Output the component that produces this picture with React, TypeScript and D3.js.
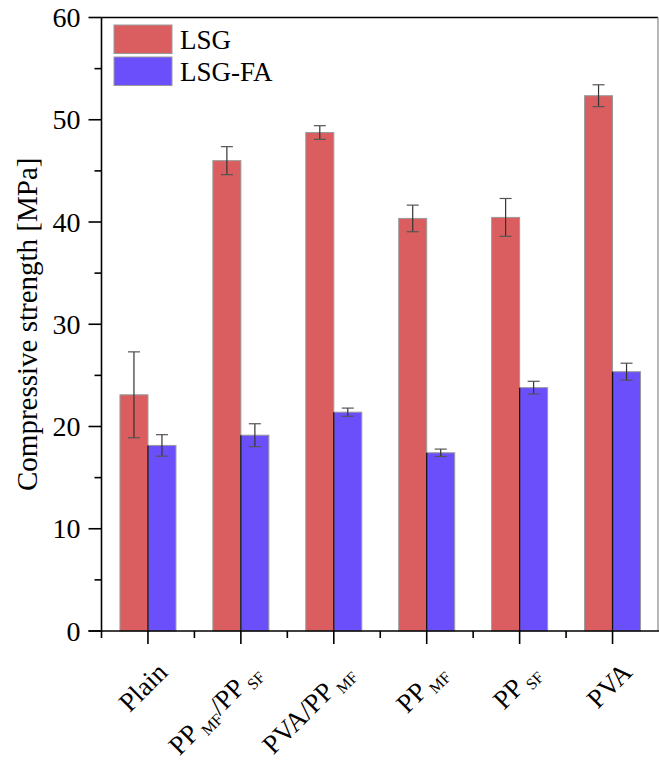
import React, { useEffect, useRef } from 'react';
import * as d3 from 'd3';

// categories, subscript parts marked with _{...}
const categories = ['Plain', 'PP_{MF}/PP_{SF}', 'PVA/PP_{MF}', 'PP_{MF}', 'PP_{SF}', 'PVA'];
const lsg = [23.1, 46.0, 48.75, 40.35, 40.45, 52.35];
const lsgErr = [4.2, 1.37, 0.67, 1.3, 1.85, 1.07];
const lsgFa = [18.15, 19.15, 21.4, 17.43, 23.8, 25.36];
const lsgFaErr = [1.05, 1.12, 0.4, 0.36, 0.62, 0.83];
const yTicks = [0, 10, 20, 30, 40, 50, 60];
const seriesNames = ['LSG', 'LSG-FA'];
const seriesColors = ['#da5e5f', '#6a4ffa'];

const FONT = '"Liberation Serif", "Times New Roman", serif';

export default function App() {
  const svgRef = useRef<SVGSVGElement | null>(null);
  const width = 659;
  const height = 761;

  useEffect(() => {
    document.body.style.margin = '0';
    const svg = d3.select(svgRef.current);
    svg.selectAll('*').remove();

    const left = 101.5, right = 659, top = 17.5, bottom = 631;

    const x = d3.scaleBand<string>().domain(categories).range([left, right]).padding(0);
    const y = d3.scaleLinear().domain([0, 60]).range([bottom, top]);
    const barW = 28;

    const series = [
      { vals: lsg, errs: lsgErr, color: seriesColors[0], off: -barW },
      { vals: lsgFa, errs: lsgFaErr, color: seriesColors[1], off: 0 },
    ];

    // bars
    series.forEach((s, si) => {
      const g = svg.append('g');
      categories.forEach((c, i) => {
        const cx = x(c)! + x.bandwidth() / 2;
        g.append('rect')
          .attr('x', cx + s.off)
          .attr('y', y(s.vals[i]))
          .attr('width', barW)
          .attr('height', y(0) - y(s.vals[i]))
          .attr('fill', s.color)
          .attr('stroke', '#9a9a9a')
          .attr('stroke-width', 1);
        if (si === 1) {
          g.append('line')
            .attr('x1', cx).attr('x2', cx)
            .attr('y1', y(s.vals[i])).attr('y2', y(0))
            .attr('stroke', '#111').attr('stroke-width', 1.3);
        }
      });
    });

    // error bars
    series.forEach((s) => {
      const g = svg.append('g');
      categories.forEach((c, i) => {
        const ex = x(c)! + x.bandwidth() / 2 + s.off + barW / 2;
        const hi = y(s.vals[i] + s.errs[i]);
        const lo = y(s.vals[i] - s.errs[i]);
        g.append('line').attr('x1', ex).attr('x2', ex).attr('y1', hi).attr('y2', lo)
          .attr('stroke', '#333').attr('stroke-width', 1.2);
        [hi, lo].forEach((yy) => {
          g.append('line').attr('x1', ex - 6).attr('x2', ex + 6).attr('y1', yy).attr('y2', yy)
            .attr('stroke', '#555').attr('stroke-width', 1.2);
        });
      });
    });

    // frame
    svg.append('line').attr('x1', left).attr('x2', right - 1).attr('y1', top).attr('y2', top)
      .attr('stroke', '#000').attr('stroke-width', 1.6);
    svg.append('line').attr('x1', right - 1).attr('x2', right - 1).attr('y1', top).attr('y2', bottom)
      .attr('stroke', '#888').attr('stroke-width', 1.2);

    // y axis
    const yAxis = svg.append('g');
    yAxis.append('line').attr('x1', left).attr('x2', left).attr('y1', top).attr('y2', bottom + 1)
      .attr('stroke', '#000').attr('stroke-width', 1.6);
    yTicks.forEach((t) => {
      yAxis.append('line').attr('x1', left - 13).attr('x2', left).attr('y1', y(t)).attr('y2', y(t))
        .attr('stroke', '#000').attr('stroke-width', 1.6);
      yAxis.append('text').attr('x', left - 21).attr('y', y(t) + 9.5)
        .attr('text-anchor', 'end').attr('font-family', FONT).attr('font-size', 28)
        .text(t);
    });
    d3.range(5, 60, 10).forEach((t) => {
      yAxis.append('line').attr('x1', left - 7).attr('x2', left).attr('y1', y(t)).attr('y2', y(t))
        .attr('stroke', '#000').attr('stroke-width', 1.6);
    });
    svg.append('text')
      .attr('transform', `translate(37,${(top + bottom) / 2}) rotate(-90)`)
      .attr('text-anchor', 'middle').attr('font-family', FONT).attr('font-size', 29)
      .text('Compressive strength [MPa]');

    // x axis
    const xAxis = svg.append('g');
    xAxis.append('line').attr('x1', left - 13).attr('x2', right).attr('y1', bottom).attr('y2', bottom)
      .attr('stroke', '#000').attr('stroke-width', 1.6);
    categories.forEach((c) => {
      const cx = x(c)! + x.bandwidth() / 2;
      xAxis.append('line').attr('x1', cx).attr('x2', cx).attr('y1', bottom).attr('y2', bottom + 13)
        .attr('stroke', '#000').attr('stroke-width', 1.6);
      xAxis.append('line').attr('x1', x(c)!).attr('x2', x(c)!).attr('y1', bottom).attr('y2', bottom + 7)
        .attr('stroke', '#000').attr('stroke-width', 1.6);

      const t = xAxis.append('text')
        .attr('transform', `translate(${cx + 21},${bottom + 43}) rotate(-45)`)
        .attr('text-anchor', 'end').attr('font-family', FONT).attr('font-size', 27);
      const parts = c.split(/(_\{[^}]+\})/).filter((p) => p.length);
      let shifted = false;
      parts.forEach((p) => {
        if (p.startsWith('_{')) {
          t.append('tspan').attr('font-size', 16).attr('dy', 6).text('\u00a0' + p.slice(2, -1));
          shifted = true;
        } else {
          t.append('tspan').attr('dy', shifted ? -6 : 0).text(p);
          shifted = false;
        }
      });
    });

    // legend
    const lg = svg.append('g');
    seriesNames.forEach((n, i) => {
      const yy = 25 + i * 32;
      lg.append('rect').attr('x', 114).attr('y', yy).attr('width', 58).attr('height', 28.5)
        .attr('fill', seriesColors[i]).attr('stroke', '#9a9a9a').attr('stroke-width', 1);
      lg.append('text').attr('x', 180).attr('y', yy + 23.5)
        .attr('font-family', FONT).attr('font-size', 27).text(n);
    });
  }, []);

  return <svg ref={svgRef} width={width} height={height} style={{ display: 'block', background: '#fff' }} />;
}
